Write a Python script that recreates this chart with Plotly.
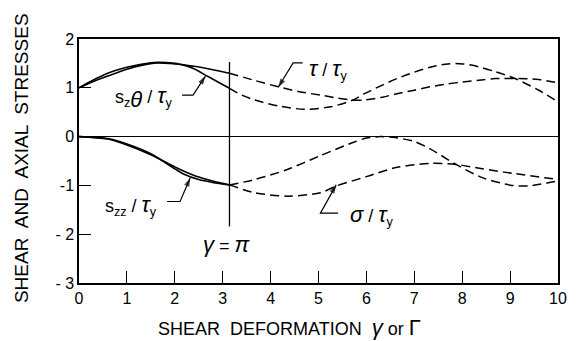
import numpy as np
import plotly.graph_objects as go

GAMMA_PI = np.pi

# s_z_theta / tau_y  (solid, 0..pi), two nearly coincident curves
szt_x = [0, 0.3, 0.6, 1.0, 1.3, 1.63, 2.0, 2.17, 2.4, 2.64, 2.9, GAMMA_PI]
szt_a = [1.0, 1.16, 1.30, 1.42, 1.48, 1.52, 1.50, 1.47, 1.44, 1.40, 1.35, 1.30]
szt_b = [1.0, 1.13, 1.24, 1.38, 1.46, 1.51, 1.49, 1.47, 1.39, 1.26, 1.12, 0.99]

# tau / tau_y (dashed, pi..10)
tau_a_x = [GAMMA_PI, 3.67, 4.16, 4.6, 5.04, 5.4, 5.72, 5.96, 6.3, 6.64, 7.0, 7.33, 7.7, 8.01, 8.4, 8.69, 9.1, 9.6, 10]
tau_a_y = [1.30, 1.15, 1.02, 0.92, 0.85, 0.79, 0.75, 0.75, 0.80, 0.88, 0.95, 1.02, 1.08, 1.12, 1.16, 1.19, 1.19, 1.17, 1.10]
tau_b_x = [GAMMA_PI, 3.4, 3.67, 4.16, 4.7, 5.25, 5.72, 5.96, 6.3, 6.64, 7.0, 7.33, 7.7, 8.01, 8.35, 8.69, 9.1, 9.6, 10]
tau_b_y = [0.99, 0.85, 0.75, 0.63, 0.56, 0.61, 0.75, 0.88, 1.04, 1.19, 1.32, 1.42, 1.49, 1.49, 1.43, 1.33, 1.19, 0.95, 0.71]

# s_zz / tau_y (solid, 0..pi)
szz_x = [0, 0.6, 1.0, 1.5, 2.0, 2.17, 2.5, 2.79, GAMMA_PI]
szz_a = [0, -0.05, -0.17, -0.37, -0.62, -0.70, -0.83, -0.91, -0.99]
szz_b = [0, -0.04, -0.15, -0.35, -0.66, -0.76, -0.88, -0.94, -0.99]

# sigma / tau_y (dashed, pi..10)
sig_a_x = [GAMMA_PI, 3.67, 4.36, 5.04, 5.72, 6.0, 6.3, 6.6, 7.0, 7.33, 7.87, 8.42, 9.04, 9.38, 10]
sig_a_y = [-0.99, -0.88, -0.67, -0.39, -0.12, -0.03, 0.0, -0.02, -0.10, -0.25, -0.57, -0.84, -1.0, -1.01, -0.91]
sig_b_x = [GAMMA_PI, 3.67, 4.36, 5.04, 5.38, 6.0, 6.64, 7.33, 7.87, 8.42, 9.04, 10]
sig_b_y = [-0.99, -1.15, -1.22, -1.15, -1.01, -0.82, -0.63, -0.55, -0.57, -0.66, -0.75, -0.88]

x_ticks = list(range(0, 11))
y_ticks = [-3, -2, -1, 0, 1, 2]
y_ticktext = ["- 3", "- 2", "-1", "0", "1", "2"]

FONT = "Liberation Sans"
DASH = "9px,5px"

fig = go.Figure()

def add(x, y, dash=None, w=1.6):
    fig.add_trace(go.Scatter(x=x, y=y, mode="lines",
                             line=dict(color="black", width=w, dash=dash, shape="spline", smoothing=0.8),
                             hoverinfo="skip"))

add(szt_x, szt_a)
add(szt_x, szt_b)
add(szz_x, szz_a)
add(szz_x, szz_b)
add(tau_a_x, tau_a_y, DASH, 1.5)
add(tau_b_x, tau_b_y, DASH, 1.5)
add(sig_a_x, sig_a_y, DASH, 1.5)
add(sig_b_x, sig_b_y, DASH, 1.5)

# vertical marker line at gamma = pi
fig.add_shape(type="line", x0=GAMMA_PI, x1=GAMMA_PI, y0=-1.84, y1=1.53,
              line=dict(color="black", width=1.3))

G = '<span style="font-size:22px">%s</span>'

def label(text, x, y, xanchor="center"):
    fig.add_annotation(x=x, y=y, text=text, showarrow=False, xanchor=xanchor, yanchor="middle",
                       font=dict(family=FONT, size=18, color="black"))

def leader(xs, ys, tip):
    # leader polyline: text end -> kink -> arrow tip
    fig.add_trace(go.Scatter(x=[xs[0], xs[1], tip[0]], y=[ys, ys, tip[1]], mode="lines+markers",
                             line=dict(color="black", width=1.2),
                             marker=dict(symbol="arrow", size=[0, 0, 9], angleref="previous",
                                         color="black", line=dict(width=0)),
                             hoverinfo="skip"))

label("s<sub>z" + G % "<i>θ</i>" + "</sub> / " + G % "<i>τ</i>" + "<sub>y</sub>", 1.35, 0.81)
leader((2.15, 2.38), 0.85, (2.64, 1.24))

label(G % "<i>τ</i>" + " / " + G % "<i>τ</i>" + "<sub>y</sub>", 4.75, 1.37, "left")
leader((4.67, 4.47), 1.51, (4.16, 1.01))

label("s<sub>zz</sub> / " + G % "<i>τ</i>" + "<sub>y</sub>", 1.09, -1.41)
leader((1.84, 2.11), -1.33, (2.32, -0.85))

label(G % "<i>σ</i>" + " / " + G % "<i>τ</i>" + "<sub>y</sub>", 6.12, -1.61)
leader((5.41, 5.04), -1.57, (5.37, -0.99))

label(G % "<i>γ</i>" + " = " + G % "<i>π</i>", 3.09, -2.22)

# axis titles
fig.add_annotation(xref="paper", yref="paper", x=-0.121, y=0.512, text="SHEAR  AND  AXIAL  STRESSES",
                   textangle=-90, showarrow=False, xanchor="center", yanchor="middle",
                   font=dict(family=FONT, size=19, color="black"))
fig.add_annotation(xref="paper", yref="paper", x=0.44, y=-0.184,
                   text="SHEAR  DEFORMATION  " + G % "<i>γ</i>" + " or " + G % "Γ",
                   showarrow=False, xanchor="center", yanchor="middle",
                   font=dict(family=FONT, size=18, color="black"))

fig.update_layout(
    width=578, height=341,
    margin=dict(l=79, r=11, t=39, b=58),
    plot_bgcolor="white", paper_bgcolor="white",
    showlegend=False,
    xaxis=dict(range=[0, 10], tickvals=x_ticks, ticks="inside", ticklen=12, tickwidth=1.2,
               tickcolor="black", showline=True, mirror=True, linecolor="black", linewidth=1.5,
               showgrid=False, zeroline=False,
               tickfont=dict(family=FONT, size=16, color="black")),
    yaxis=dict(range=[-3, 2], tickvals=y_ticks, ticktext=y_ticktext, ticks="inside", ticklen=12,
               tickwidth=1.2, tickcolor="black", showline=True, mirror=True, linecolor="black",
               linewidth=1.5, showgrid=False, zeroline=True, zerolinecolor="black", zerolinewidth=1.3,
               tickfont=dict(family=FONT, size=16, color="black")),
)

fig.write_html("out.html")
